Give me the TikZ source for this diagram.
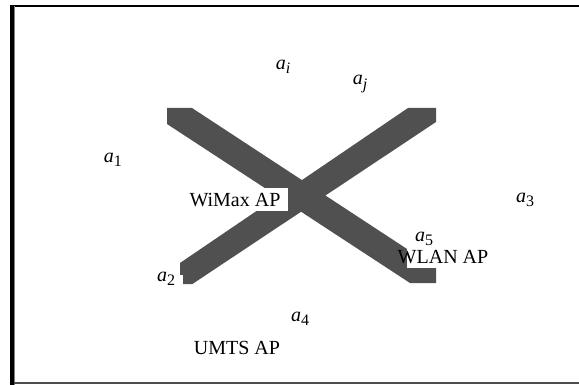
\documentclass[tikz,border=0pt]{standalone}
\usepackage{fontspec}
\setmainfont{Liberation Serif}
\newcommand\symsub[2]{\textit{#1}\raisebox{-0.45ex}{\footnotesize #2}}
\definecolor{bandgray}{HTML}{505050}
\tikzset{
  lbl/.style={inner sep=0pt, font=\fontsize{10}{12}\selectfont},
  band/.style={fill=bandgray},
  mask/.style={fill=white}
}
\begin{document}
\begin{tikzpicture}[x=0.5pt,y=-0.5pt]
\useasboundingbox (0,0) rectangle (579,385);
% frame
\draw[line width=1.25pt] (10,6) -- (579,6);
\draw[line width=2pt] (12,5) -- (12,385);
\draw[gray, line width=0.5pt] (14.8,6) -- (14.8,385);
\draw[black!70, line width=0.6pt] (14,383) -- (579,383);
% crossing links
\fill[band] (167,108) -- (192,108) -- (436,268) -- (436,283) -- (410,283) -- (167,124) -- cycle;
\fill[band] (408,108) -- (436,108) -- (436,122) -- (192.4,284) -- (180,284) -- (180,263) -- cycle;
% label backgrounds
\fill[mask] (187,188) rectangle (288,211);
\fill[mask] (407,245) rectangle (492,268);
\fill[mask] (150,275) rectangle (183,292);
% labels
\node[lbl] (ai) at (283,67) {\symsub{a}{\textit{i}}};
\node[lbl] (aj) at (360,84) {\symsub{a}{\textit{j}}};
\node[lbl] (a1) at (113,160) {\symsub{a}{1}};
\node[lbl] (a2) at (166,279) {\symsub{a}{2}};
\node[lbl] (a3) at (525,200) {\symsub{a}{3}};
\node[lbl] (a4) at (300,319) {\symsub{a}{4}};
\node[lbl] (a5) at (424,239) {\symsub{a}{5}};
\node[lbl] (wimax) at (235,200) {WiMax AP};
\node[lbl] (wlan) at (443,257) {WLAN AP};
\node[lbl] (umts) at (237,348) {UMTS AP};
\end{tikzpicture}
\end{document}
